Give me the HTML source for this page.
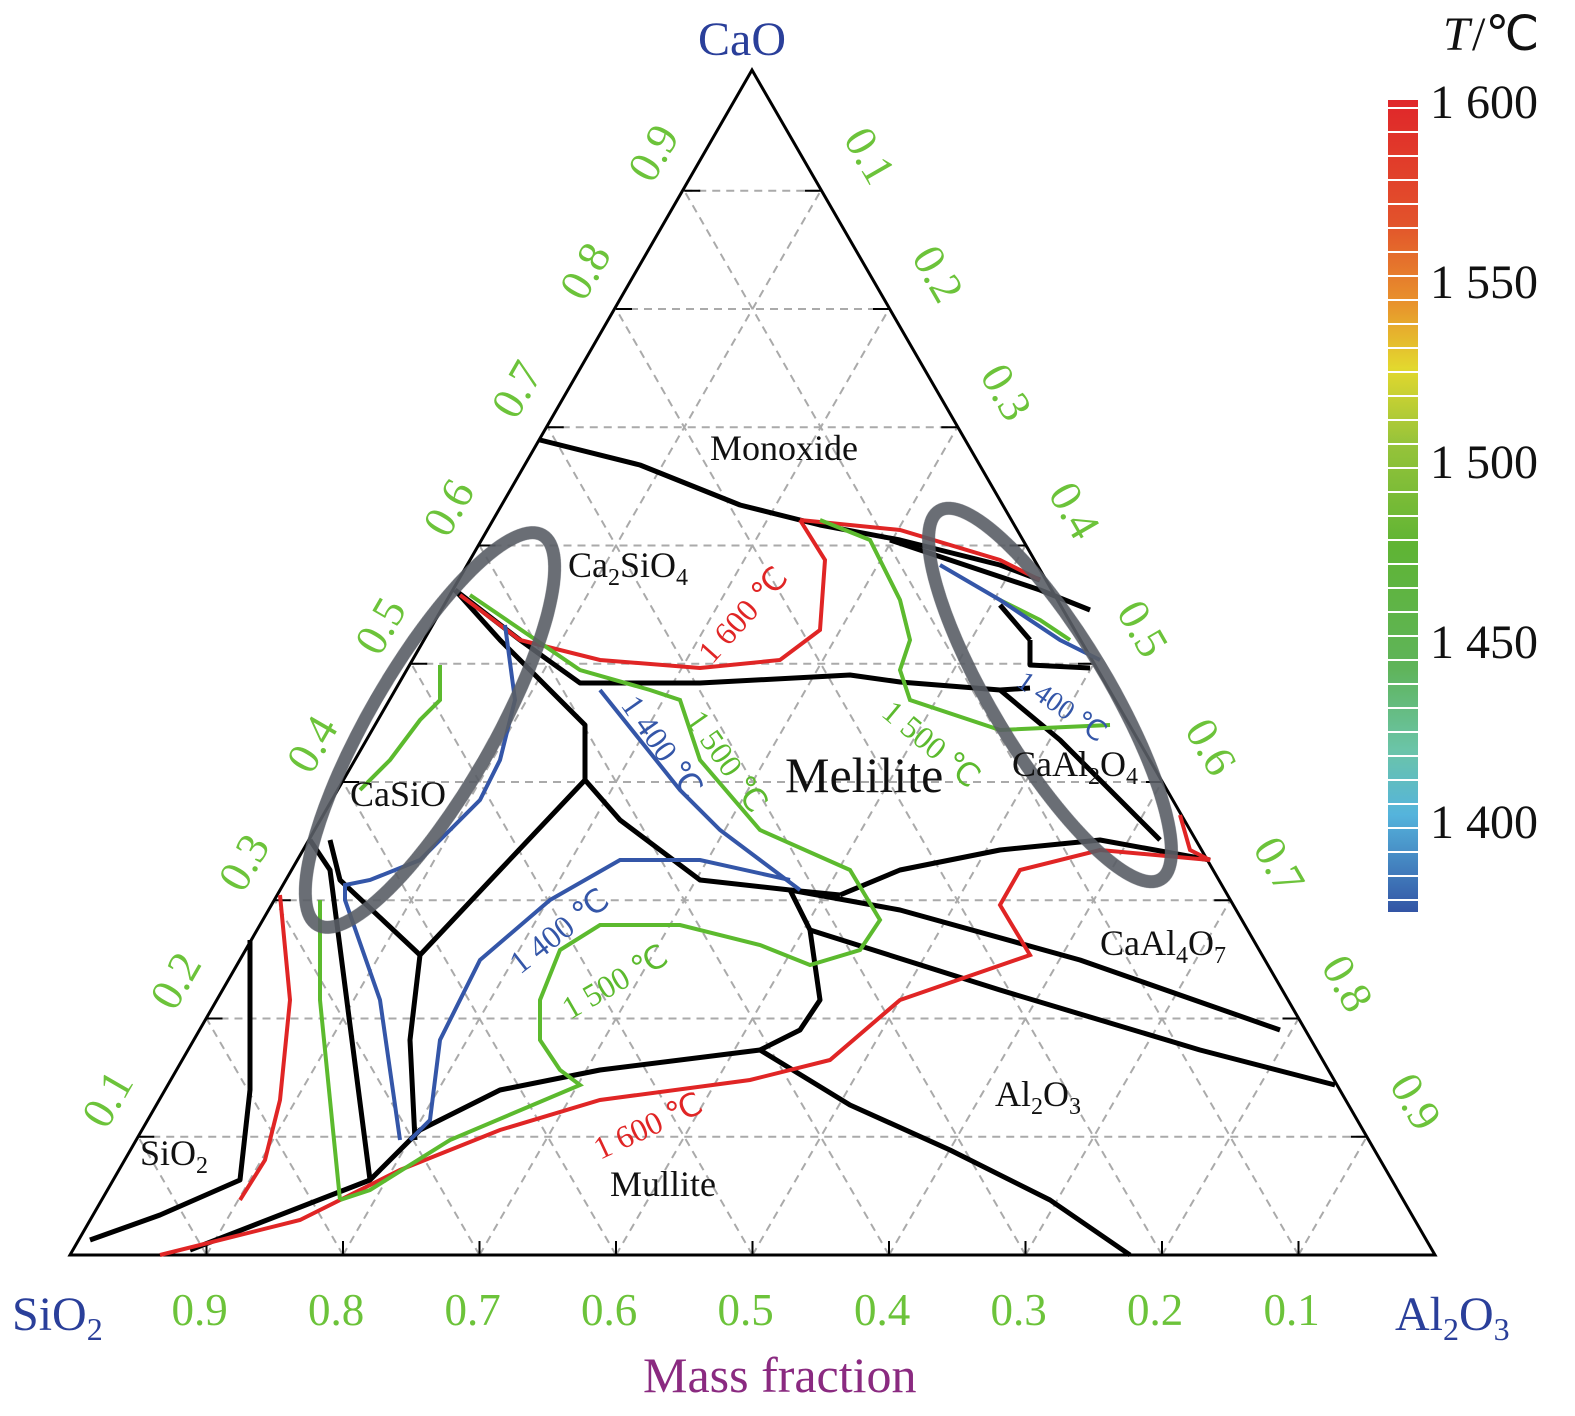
<!DOCTYPE html>
<html><head><meta charset="utf-8"><style>
body{margin:0;background:#fff;}
svg{display:block;font-family:"Liberation Serif",serif;}
</style></head><body>
<svg id="s" width="1575" height="1416" viewBox="0 0 1575 1416" xmlns="http://www.w3.org/2000/svg">
<defs>
<linearGradient id="cb" x1="0" y1="0" x2="0" y2="1">
<stop offset="0" stop-color="#e0262a"/>
<stop offset="0.15" stop-color="#e2522b"/>
<stop offset="0.25" stop-color="#e8922c"/>
<stop offset="0.33" stop-color="#e3d82e"/>
<stop offset="0.42" stop-color="#98c43a"/>
<stop offset="0.55" stop-color="#5fb434"/>
<stop offset="0.7" stop-color="#5fb45a"/>
<stop offset="0.8" stop-color="#6bc4a8"/>
<stop offset="0.88" stop-color="#55b4dc"/>
<stop offset="1" stop-color="#3355a5"/>
</linearGradient>
</defs>
<g id="grid" stroke="#aaa" stroke-width="2" stroke-dasharray="8,6" fill="none"></g>
<g id="ticks" stroke="#000" stroke-width="2"></g>
<polygon points="752,70 70,1255 1435,1255" fill="none" stroke="#000" stroke-width="3"/>

<g fill="none" stroke="#000" stroke-width="5" stroke-linejoin="round">
<polyline points="540,440 640,465 740,505 820,525 900,540 1000,565 1040,580"/>
<polyline points="890,540 950,560 1040,590 1090,610"/>
<polyline points="455,590 520,640 580,683 700,683 850,675 900,682 1000,690 1030,688"/>
<polyline points="1030,640 1030,665 1090,668"/>
<polyline points="1000,605 1030,640"/>
<polyline points="1000,690 1060,740 1110,790 1160,840"/>
<polyline points="455,590 500,640 560,700 585,725 585,780 620,820 700,880 790,890 840,895"/>
<polyline points="585,780 500,870 420,955 410,1040 415,1140"/>
<polyline points="330,840 340,880 420,955"/>
<polyline points="310,840 330,870 370,1180"/>
<polyline points="840,895 900,870 1000,850 1100,840 1210,860"/>
<polyline points="790,890 900,910 1080,960 1280,1030"/>
<polyline points="810,930 1000,990 1200,1050 1335,1085"/>
<polyline points="790,890 810,930 820,1000 800,1030 760,1050"/>
<polyline points="760,1050 850,1105 950,1150 1050,1200 1130,1255"/>
<polyline points="760,1050 600,1070 500,1090 420,1130 370,1180 190,1250"/>
<polyline points="250,940 250,1090 240,1180 160,1215 90,1240"/>
</g>
<g fill="none" stroke="#e02525" stroke-width="4">
<polyline points="460,595 520,640 600,660 700,668 780,660 820,630 825,560 800,520"/>
<polyline points="800,520 900,530 1000,560 1040,580"/>
<polyline points="1180,815 1190,850 1210,860 1100,850 1020,870 1000,905 1030,955 900,1000 830,1060 750,1080 600,1100 500,1130 400,1170 300,1220 160,1255"/>
<polyline points="280,895 290,1000 280,1100 265,1160 240,1200"/>
</g>
<g fill="none" stroke="#5cba2e" stroke-width="4">
<polyline points="440,665 440,700 420,720 390,760 360,790"/>
<polyline points="470,595 580,670 650,690 680,700 700,760 760,830 850,870 880,920 860,950 810,965 760,945 680,925 600,925 560,950 540,1000 540,1040 560,1070 580,1085 450,1140 370,1190 340,1200"/>
<polyline points="820,520 870,540 900,600 910,640 900,670 910,700 1000,730 1110,725"/>
<polyline points="320,900 320,1000 340,1200"/>
<polyline points="1000,600 1040,620 1070,640"/>
</g>
<g fill="none" stroke="#3456a8" stroke-width="4">
<polyline points="505,625 515,700 500,760 480,800 420,860 370,880 345,885 345,900 380,1000 400,1140"/>
<polyline points="600,690 640,740 680,790 720,830 760,860 800,890"/>
<polyline points="790,880 700,860 620,860 550,900 480,960 440,1040 430,1120 410,1140"/>
<polyline points="940,565 1000,600 1060,640 1100,660"/>
</g>
<g fill="none" stroke="#5a5e66" stroke-width="13" opacity="0.9">
<ellipse cx="430" cy="730" rx="225" ry="62" transform="rotate(-60 430 730)"/>
<ellipse cx="1050" cy="695" rx="215" ry="58" transform="rotate(59 1050 695)"/>
</g>

<g font-size="36" fill="#111">
<text x="710" y="460">Monoxide</text>
<text x="568" y="577">Ca<tspan font-size="24" dy="8">2</tspan><tspan dy="-8">SiO</tspan><tspan font-size="24" dy="8">4</tspan></text>
<text x="350" y="806">CaSiO</text>
<text x="1100" y="955">CaAl<tspan font-size="24" dy="8">4</tspan><tspan dy="-8">O</tspan><tspan font-size="24" dy="8">7</tspan></text>
<text x="1012" y="776">CaAl<tspan font-size="24" dy="8">2</tspan><tspan dy="-8">O</tspan><tspan font-size="24" dy="8">4</tspan></text>
<text x="995" y="1106">Al<tspan font-size="24" dy="8">2</tspan><tspan dy="-8">O</tspan><tspan font-size="24" dy="8">3</tspan></text>
<text x="140" y="1165">SiO<tspan font-size="24" dy="8">2</tspan></text>
<text x="610" y="1196">Mullite</text>
<text x="785" y="792" font-size="50">Melilite</text>
</g>
<g font-size="32">
<text x="0" y="0" fill="#e02525" transform="translate(712,665) rotate(-48)">1 600 ℃</text>
<text x="0" y="0" fill="#e02525" transform="translate(600,1160) rotate(-25)">1 600 ℃</text>
<text x="0" y="0" fill="#3456a8" transform="translate(520,975) rotate(-38)">1 400 ℃</text>
<text x="0" y="0" fill="#3456a8" transform="translate(620,705) rotate(55)">1 400 ℃</text>
<text x="0" y="0" fill="#3456a8" font-size="28" transform="translate(1015,685) rotate(35)">1 400 ℃</text>
<text x="0" y="0" fill="#5cba2e" transform="translate(570,1020) rotate(-30)">1 500 ℃</text>
<text x="0" y="0" fill="#5cba2e" transform="translate(685,720) rotate(55)">1 500 ℃</text>
<text x="0" y="0" fill="#5cba2e" transform="translate(880,715) rotate(40)">1 500 ℃</text>
</g>

<g font-size="48" fill="#2a3f9a">
<text x="698" y="55">CaO</text>
<text x="12" y="1330">SiO<tspan font-size="32" dy="10">2</tspan></text>
<text x="1395" y="1330">Al<tspan font-size="32" dy="10">2</tspan><tspan dy="-10">O</tspan><tspan font-size="32" dy="10">3</tspan></text>
</g>
<text x="643" y="1392" font-size="50" fill="#8a2a80">Mass fraction</text>
<g id="nums" font-size="45" fill="#6cc33a"></g>

<rect x="1388" y="100" width="30" height="812" fill="url(#cb)"/>
<g id="cbl" stroke="#fff" stroke-width="2"></g>
<g font-size="48" fill="#111">
<text x="1443" y="50" font-style="italic">T</text><text x="1472" y="50">/℃</text>
<text x="1430" y="118">1 600</text>
<text x="1430" y="298">1 550</text>
<text x="1430" y="478">1 500</text>
<text x="1430" y="658">1 450</text>
<text x="1430" y="838">1 400</text>
</g>
</svg>
<script>
var NS="http://www.w3.org/2000/svg";
function P(c,a){return [70+1365*(a+c/2),1255-1182.5*c];}
function L(g,p,q){var l=document.createElementNS(NS,"line");l.setAttribute("x1",p[0]);l.setAttribute("y1",p[1]);l.setAttribute("x2",q[0]);l.setAttribute("y2",q[1]);document.getElementById(g).appendChild(l);}
for(var i=1;i<10;i++){var f=i/10;
 L("grid",P(f,0),P(f,1-f));
 L("grid",P(0,f),P(1-f,f));
 L("grid",P(0,1-f),P(1-f,0));
 var a=P(f,0),b=P(f,1-f),c=P(0,f);
 L("ticks",[a[0],a[1]],[a[0]+16,a[1]]);
 L("ticks",[b[0],b[1]],[b[0]-16,b[1]]);
 L("ticks",[c[0],c[1]],[c[0],c[1]-14]);
}
var nums=document.getElementById("nums");
function T(x,y,t,r){var e=document.createElementNS(NS,"text");e.setAttribute("transform","translate("+x+","+y+") rotate("+r+")");e.textContent=t;nums.appendChild(e);}
for(var i=1;i<10;i++){var f=i/10;
 var p=P(f,0); T(p[0]-32,p[1]-6,f.toFixed(1),-60);
 var q=P(f,1-f); T(q[0]+22,q[1]-52,(1-f).toFixed(1),60);
 var b=P(0,f); var e=document.createElementNS(NS,"text");e.setAttribute("x",b[0]-35);e.setAttribute("y",1325);e.textContent=(1-f).toFixed(1);nums.appendChild(e);
}
var cbl=document.getElementById("cbl");
for(var y=100;y<912;y+=24){var l=document.createElementNS(NS,"line");l.setAttribute("x1",1388);l.setAttribute("x2",1418);l.setAttribute("y1",y+8);l.setAttribute("y2",y+8);cbl.appendChild(l);}
</script>
</body></html>
